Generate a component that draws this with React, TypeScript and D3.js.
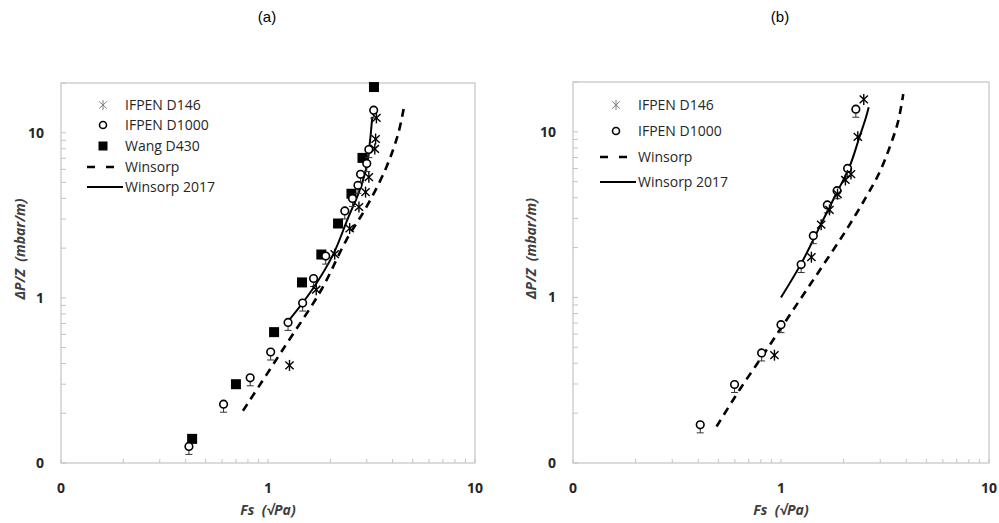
import React from 'react';
import * as d3 from 'd3';

// panel (a)
const a146X = [1.27, 1.71, 2.1, 2.48, 2.75, 2.96, 3.07, 3.28, 3.31, 3.34];
const a146Y = [0.39, 1.12, 1.84, 2.63, 3.55, 4.37, 5.38, 7.97, 9.16, 12.3];
const a1000X = [0.415, 0.61, 0.82, 1.03, 1.25, 1.47, 1.66, 1.9, 2.35, 2.56, 2.72, 2.8, 3.0, 3.07, 3.24];
const a1000Y = [0.126, 0.227, 0.328, 0.47, 0.71, 0.93, 1.31, 1.79, 3.36, 4.0, 4.8, 5.6, 6.5, 7.9, 13.7];
const a430X = [0.43, 0.7, 1.07, 1.46, 1.81, 2.18, 2.53, 2.86, 3.25];
const a430Y = [0.14, 0.3, 0.62, 1.24, 1.83, 2.82, 4.27, 7.04, 18.9];
const aWinX = [0.757, 1.18, 1.81, 2.39, 2.99, 3.73, 4.25, 4.52];
const aWinY = [0.207, 0.487, 1.12, 2.24, 3.55, 6.18, 9.8, 13.9];
const a2017X = [1.27, 1.65, 2.06, 2.43, 2.75, 2.99, 3.1, 3.19];
const a2017Y = [0.737, 1.14, 1.82, 3.02, 4.37, 6.18, 8.55, 12.5];

// panel (b)
const b146X = [0.93, 1.4, 1.56, 1.71, 1.87, 2.04, 2.17, 2.34, 2.5];
const b146Y = [0.448, 1.75, 2.75, 3.38, 4.21, 5.12, 5.56, 9.33, 15.7];
const b1000X = [0.409, 0.598, 0.807, 1.0, 1.25, 1.43, 1.67, 1.86, 2.09, 2.29];
const b1000Y = [0.17, 0.298, 0.462, 0.685, 1.58, 2.36, 3.62, 4.41, 6.01, 13.7];
const bWinX = [0.49, 0.63, 0.85, 1.14, 1.53, 2.05, 2.56, 2.97, 3.35, 3.66, 3.87];
const bWinY = [0.166, 0.275, 0.48, 0.835, 1.45, 2.53, 4.02, 5.66, 8.24, 11.6, 16.9];
const b2017X = [1.0, 1.25, 1.53, 1.84, 2.13, 2.38, 2.56, 2.64];
const b2017Y = [1.0, 1.6, 2.65, 4.21, 6.1, 9.24, 12.2, 14.1];

const xTickValues = [0.1, 1, 10];
const xTickLabels = ['0', '1', '10'];
const yTickValues = [0.1, 1, 10];
const yTickLabels = ['0', '1', '10'];

const zip = (xs: number[], ys: number[]) => xs.map((x, i) => ({ x, y: ys[i] }));

const FONT = "'Open Sans', 'Noto Sans', sans-serif";
const AXIS = '#c4c4c4';

type Pt = { x: number; y: number };

// excel style asterisk: an X with a vertical bar
const Star = ({ cx, cy, r, color, w }: { cx: number; cy: number; r: number; color: string; w: number }) => (
  <g stroke={color} strokeWidth={w}>
    <line x1={cx - r * 0.75} y1={cy - r * 0.7} x2={cx + r * 0.75} y2={cy + r * 0.7} />
    <line x1={cx - r * 0.75} y1={cy + r * 0.7} x2={cx + r * 0.75} y2={cy - r * 0.7} />
    <line x1={cx} y1={cy - r} x2={cx} y2={cy + r} />
  </g>
);

const Circle = ({ cx, cy, bar }: { cx: number; cy: number; bar: boolean }) => (
  <g>
    {bar && (
      <g stroke="#333" strokeWidth={1}>
        <line x1={cx} y1={cy} x2={cx} y2={cy + 8} />
        <line x1={cx - 3.5} y1={cy + 8} x2={cx + 3.5} y2={cy + 8} />
      </g>
    )}
    <circle cx={cx} cy={cy} r={3.8} fill="#fff" stroke="#000" strokeWidth={1.6} />
  </g>
);

type PanelProps = {
  title: string;
  xr: [number, number];
  yr: [number, number];
  s146: Pt[];
  s1000: Pt[];
  s430?: Pt[];
  win: Pt[];
  w2017: Pt[];
  legendX: number;
  legendYs: number[];
  legendLineX: number;
  ytitleX: number;
};

const Panel = (p: PanelProps) => {
  const x = d3.scaleLog().domain([0.1, 10]).range(p.xr);
  const y = d3.scaleLog().domain([0.1, 20]).range(p.yr);
  const line = d3
    .line<Pt>()
    .x((d) => x(d.x))
    .y((d) => y(d.y))
    .curve(d3.curveCatmullRom.alpha(0.5));
  const [x0, x1] = p.xr;
  const [yb, yt] = p.yr;
  const entries: { label: string; kind: string }[] = [
    { label: 'IFPEN D146', kind: 'star' },
    { label: 'IFPEN D1000', kind: 'circle' },
  ];
  if (p.s430) entries.push({ label: 'Wang D430', kind: 'square' });
  entries.push({ label: 'Winsorp', kind: 'dash' });
  entries.push({ label: 'Winsorp 2017', kind: 'solid' });

  return (
    <g>
      <text x={(x0 + x1) / 2 - 1} y={22} textAnchor="middle" fontFamily="'Liberation Sans', Arial, sans-serif" fontSize={15} fill="#000">
        {p.title}
      </text>
      {/* frame */}
      <rect x={x0} y={yt} width={x1 - x0} height={yb - yt} fill="none" stroke={AXIS} strokeWidth={1.2} />
      {/* minor ticks */}
      {x.ticks().map((t, i) => (
        <line key={'xt' + i} x1={x(t)} x2={x(t)} y1={yb} y2={yb - 4} stroke={AXIS} strokeWidth={1} />
      ))}
      {y.ticks().map((t, i) => (
        <line key={'yt' + i} x1={x0} x2={x0 + 5} y1={y(t)} y2={y(t)} stroke={AXIS} strokeWidth={1} />
      ))}
      {xTickValues.map((t, i) => (
        <text key={'xl' + i} x={x(t)} y={yb + 30} textAnchor="middle" fontFamily={FONT} fontWeight="bold" fontSize={14} fill="#262626">
          {xTickLabels[i]}
        </text>
      ))}
      {yTickValues.map((t, i) => (
        <text key={'yl' + i} x={x0 - 17} y={y(t) + 5} textAnchor="end" fontFamily={FONT} fontWeight="bold" fontSize={14} fill="#262626">
          {yTickLabels[i]}
        </text>
      ))}
      <text x={(x0 + x1) / 2} y={yb + 52} textAnchor="middle" fontFamily={FONT} fontWeight="bold" fontStyle="italic" fontSize={14} fill="#404040">
        Fs{'\u00a0\u00a0'}(√Pa)
      </text>
      <text
        transform={`translate(${p.ytitleX},${(yb + yt) / 2 - 24}) rotate(-90)`}
        textAnchor="middle"
        fontFamily={FONT}
        fontWeight="bold"
        fontStyle="italic"
        fontSize={14}
        fill="#404040"
      >
        ΔP/Z{'\u00a0\u00a0'}(mbar/m)
      </text>

      {/* curves */}
      <path d={line(p.win) || ''} fill="none" stroke="#000" strokeWidth={2.6} strokeDasharray="8,6" />
      <path d={line(p.w2017) || ''} fill="none" stroke="#000" strokeWidth={2} />

      {/* markers */}
      {p.s430 &&
        p.s430.map((d, i) => (
          <rect key={'sq' + i} x={x(d.x) - 5} y={y(d.y) - 5} width={10} height={10} fill="#000" />
        ))}
      {p.s1000.map((d, i) => (
        <Circle key={'c' + i} cx={x(d.x)} cy={y(d.y)} bar={true} />
      ))}
      {p.s146.map((d, i) => (
        <Star key={'s' + i} cx={x(d.x)} cy={y(d.y)} r={5.5} color="#000" w={1.4} />
      ))}

      {/* legend */}
      {entries.map((e, i) => {
        const ly = p.legendYs[i];
        const sx = p.legendX;
        return (
          <g key={'lg' + i}>
            {e.kind === 'star' && <Star cx={sx} cy={ly} r={5} color="#808080" w={1} />}
            {e.kind === 'circle' && <circle cx={sx} cy={ly} r={3.5} fill="#fff" stroke="#000" strokeWidth={1.6} />}
            {e.kind === 'square' && <rect x={sx - 4.5} y={ly - 4.5} width={9} height={9} fill="#000" />}
            {e.kind === 'dash' && (
              <line x1={p.legendLineX} x2={sx + 12} y1={ly} y2={ly} stroke="#000" strokeWidth={2.6} strokeDasharray="8,11" />
            )}
            {e.kind === 'solid' && <line x1={p.legendLineX} x2={sx + 20} y1={ly} y2={ly} stroke="#000" strokeWidth={2} />}
            <text x={sx + 22} y={ly + 5} fontFamily={FONT} fontSize={14} fill="#262626">
              {e.label}
            </text>
          </g>
        );
      })}
    </g>
  );
};

export default function App() {
  return (
    <svg width={999} height={523} style={{ position: 'absolute', left: 0, top: 0, display: 'block' }}>
      <rect width={999} height={523} fill="#fff" />
      <Panel
        title="(a)"
        xr={[61, 475]}
        yr={[463, 83]}
        s146={zip(a146X, a146Y)}
        s1000={zip(a1000X, a1000Y)}
        s430={zip(a430X, a430Y)}
        win={zip(aWinX, aWinY)}
        w2017={zip(a2017X, a2017Y)}
        legendX={103}
        legendYs={[105, 125, 146, 167, 187]}
        legendLineX={87}
        ytitleX={25}
      />
      <Panel
        title="(b)"
        xr={[573, 989]}
        yr={[463, 82]}
        s146={zip(b146X, b146Y)}
        s1000={zip(b1000X, b1000Y)}
        win={zip(bWinX, bWinY)}
        w2017={zip(b2017X, b2017Y)}
        legendX={616}
        legendYs={[105, 131, 157, 182]}
        legendLineX={600}
        ytitleX={536}
      />
    </svg>
  );
}
